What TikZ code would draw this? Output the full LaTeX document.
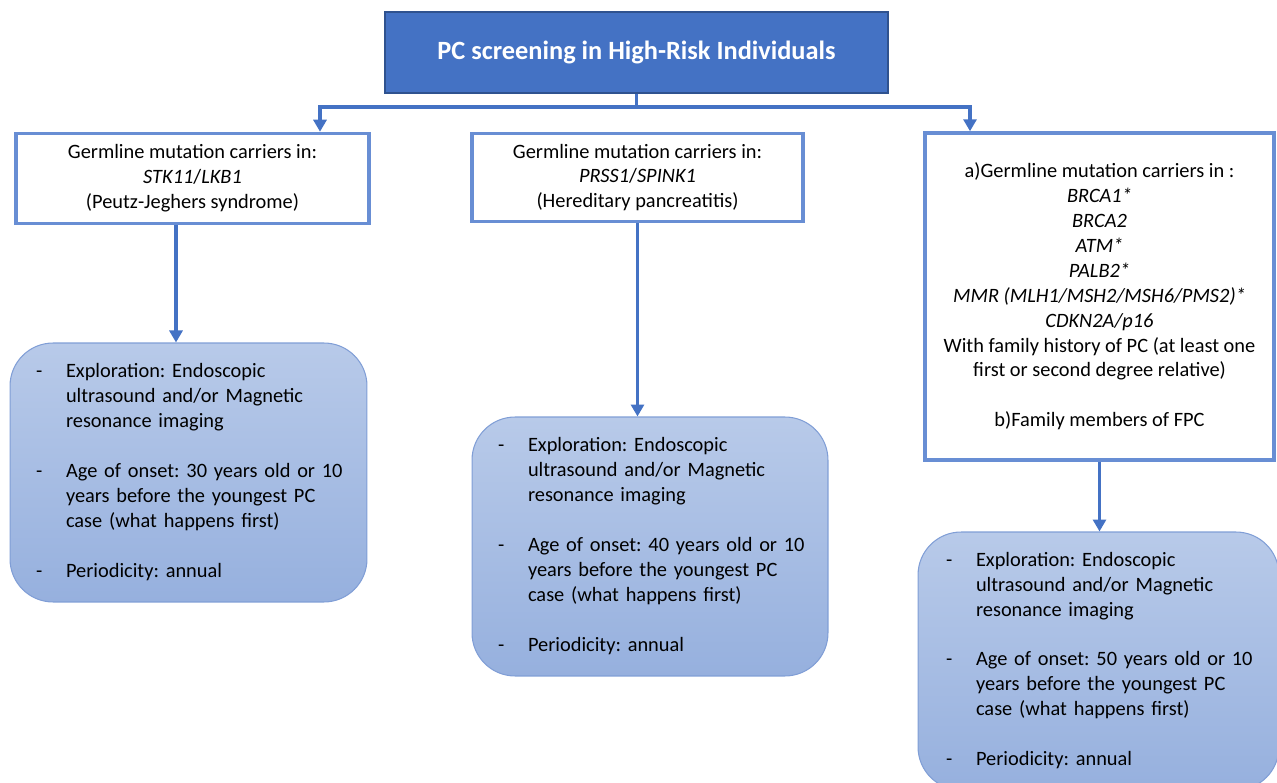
\documentclass[tikz,border=0pt]{standalone}
\usepackage{fontspec}
\setmainfont{Carlito}
\usetikzlibrary{arrows.meta}
\frenchspacing

\definecolor{headblue}{RGB}{68,114,196}
\definecolor{headedge}{RGB}{47,82,143}
\definecolor{boxedge}{RGB}{104,142,212}
\definecolor{plantop}{RGB}{184,202,233}
\definecolor{planbot}{RGB}{150,176,222}
\definecolor{planedge}{RGB}{128,158,214}

\begin{document}
\begin{tikzpicture}[x=0.02cm,y=-0.02cm,
  every node/.style={font=\fontsize{11.6pt}{14.17pt}\selectfont},
  head/.style={draw=headedge,line width=0.8pt,fill=headblue,text=white,font=\fontsize{15pt}{18pt}\selectfont\bfseries,minimum width=10.06cm,minimum height=1.62cm},
  group/.style={draw=boxedge,line width=2pt,fill=white,align=center,inner sep=0pt},
  plan/.style={draw=planedge,line width=0.6pt,top color=plantop,bottom color=planbot,rounded corners=0.86cm,align=left,inner xsep=0.52cm,inner ysep=0pt},
  link/.style={draw=headblue,line width=1.8pt,-{Triangle[length=0.24cm,width=0.26cm]}}]
\useasboundingbox (0,0) rectangle (1277,783);

\node[head] (title) at (636.5,52.5) {PC screening in High-Risk Individuals};

\node[group,minimum width=7.06cm,minimum height=1.8cm] (carrier1) at (192.5,178.5) {Germline mutation carriers in:\\\textit{STK11}/\textit{LKB1}\\(Peutz-Jeghers syndrome)};
\node[group,minimum width=6.62cm,minimum height=1.76cm] (carrier2) at (637.5,177.5) {Germline mutation carriers in:\\\textit{PRSS1}/\textit{SPINK1}\\(Hereditary pancreatitis)};
\node[group,minimum width=6.98cm,minimum height=6.54cm] (carrier3) at (1099.5,296.5) {a)Germline mutation carriers in :\\\textit{BRCA1*}\\\textit{BRCA2}\\\textit{ATM*}\\\textit{PALB2*}\\\textit{MMR (MLH1/MSH2/MSH6/PMS2)*}\\\textit{CDKN2A/p16}\\With family history of PC (at least one\\first or second degree relative)\\[14.17pt]b)Family members of FPC};

\node[plan,text width=6.1cm,minimum height=5.18cm] (screen1) at (188.5,472.5) {\noindent\begin{tabular}{@{}p{0.6cm}@{}l@{}}
- & Exploration: Endoscopic\\
  & ultrasound and/or Magnetic\\
  & resonance imaging\\
  & \\
- & Age of onset: 30 years old or 10\\
  & years before the youngest PC\\
  & case (what happens first)\\
  & \\
- & Periodicity: annual
\end{tabular}};
\node[plan,text width=6.08cm,minimum height=5.18cm] (screen2) at (650,546.5) {\noindent\begin{tabular}{@{}p{0.6cm}@{}l@{}}
- & Exploration: Endoscopic\\
  & ultrasound and/or Magnetic\\
  & resonance imaging\\
  & \\
- & Age of onset: 40 years old or 10\\
  & years before the youngest PC\\
  & case (what happens first)\\
  & \\
- & Periodicity: annual
\end{tabular}};
\node[plan,text width=6.1cm,minimum height=5.16cm,inner xsep=0.56cm] (screen3) at (1098.5,661) {\noindent\begin{tabular}{@{}p{0.6cm}@{}l@{}}
- & Exploration: Endoscopic\\
  & ultrasound and/or Magnetic\\
  & resonance imaging\\
  & \\
- & Age of onset: 50 years old or 10\\
  & years before the youngest PC\\
  & case (what happens first)\\
  & \\
- & Periodicity: annual
\end{tabular}};

% split under the title
\coordinate (fork) at (636.5,107);
\coordinate (in1) at (carrier1.north -| 320,0);
\coordinate (in3) at (carrier3.north -| 970,0);
\draw[link,-] (title.south) -- (fork);
\draw[link] (fork) -| (in1);
\draw[link] (fork) -| (in3);

\coordinate (drop1) at ([xshift=-0.33cm]carrier1.south);
\draw[link] (drop1) -- (drop1 |- screen1.north);
\draw[link] (carrier2.south) -- (carrier2.south |- screen2.north);
\draw[link] (carrier3.south) -- (carrier3.south |- screen3.north);
\end{tikzpicture}
\end{document}
